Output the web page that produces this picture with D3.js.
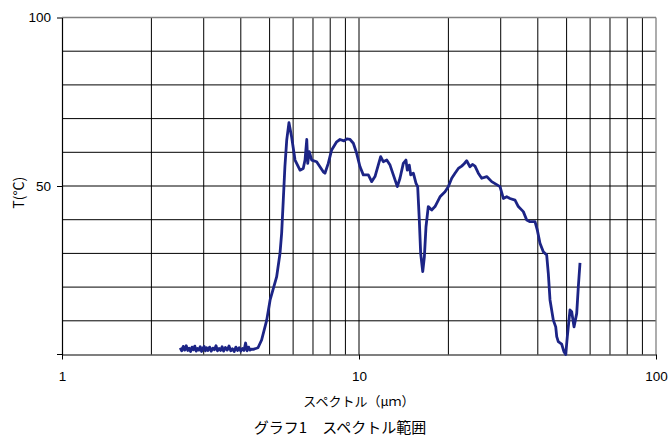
<!DOCTYPE html>
<html>
<head>
<meta charset="utf-8">
<script src="https://cdn.jsdelivr.net/npm/d3@7"></script>
<style>
  body { margin: 0; background: #fff; }
  text { font-family: "Liberation Sans", Arial, "Noto Sans CJK JP", sans-serif; }
  .jp { font-family: "Noto Sans CJK JP", sans-serif; }
</style>
</head>
<body>
<div id="chart"></div>
<script>
const width = 670,
    height = 436;

const margin = { top: 17.5, right: 14, bottom: 81.5, left: 62 };

// wavelength (µm) and temperature readings
const wavelength = [
    2.50, 2.53, 2.56, 2.59, 2.62, 2.65, 2.68, 2.71, 2.74, 2.77,
    2.80, 2.83, 2.86, 2.89, 2.92, 2.95, 2.98, 3.01, 3.04, 3.07,
    3.10, 3.14, 3.18, 3.22, 3.26, 3.30, 3.34, 3.38, 3.42, 3.46,
    3.50, 3.55, 3.60, 3.65, 3.70, 3.75, 3.80, 3.85, 3.90, 3.95,
    4.00, 4.05, 4.10, 4.15, 4.20, 4.25, 4.30, 4.35, 4.40, 4.57, 4.70,
    4.89, 5.02, 5.28, 5.42, 5.49, 5.56, 5.63, 5.71, 5.81, 5.93,
    6.09, 6.33, 6.49, 6.58, 6.67, 6.72, 6.80, 6.93, 7.20, 7.58,
    7.68, 7.88, 8.09, 8.41, 8.63, 8.90, 9.10, 9.33, 9.57, 9.82,
    10.08, 10.34, 10.75, 11.03, 11.32, 11.61, 11.83, 12.07, 12.40, 12.72,
    13.05, 13.46, 13.74, 14.10, 14.39, 14.54, 14.77, 14.93, 15.24, 15.56,
    15.76, 15.96, 16.13, 16.39, 16.60, 16.81, 17.11, 17.57, 18.03, 18.74,
    19.48, 19.98, 20.52, 21.05, 21.60, 22.17, 22.60, 23.05, 23.64, 24.10,
    24.58, 25.22, 25.89, 26.92, 27.98, 29.84, 30.62, 31.43, 32.24, 33.52,
    34.39, 35.75, 36.70, 37.65, 39.14, 39.85, 40.68, 41.74, 42.85, 43.39,
    43.97, 45.11, 45.96, 46.32, 46.88, 48.13, 49.00, 49.66, 50.28, 51.33,
    52.02, 52.96, 54.08, 54.76, 55.48
];
const temperature = [
    2.0, 1.1, 2.4, 1.3, 2.6, 1.2, 1.9, 0.9, 2.2, 1.4,
    2.5, 1.0, 1.8, 1.3, 2.3, 0.9, 1.7, 2.4, 1.1, 2.0,
    1.2, 2.2, 1.0, 1.9, 1.4, 2.6, 1.1, 1.8, 1.2, 2.3,
    1.0, 2.1, 1.3, 2.5, 1.1, 1.7, 0.9, 2.2, 1.2, 2.0,
    1.0, 1.8, 1.2, 3.4, 1.1, 2.2, 1.3, 1.6, 1.5, 2.0, 4.3,
    10.2, 16.2, 23.0, 30.0, 36.0, 45.8, 55.7, 63.6, 68.8, 64.6,
    57.7, 54.7, 55.2, 57.7, 63.8, 56.7, 60.2, 57.7, 57.2, 54.2,
    53.8, 56.7, 60.7, 63.1, 63.8, 63.4, 64.0, 63.8, 62.7, 59.7,
    55.7, 53.3, 53.3, 51.3, 52.8, 56.2, 58.7, 57.2, 57.7, 56.2,
    53.3, 49.8, 52.3, 56.7, 57.7, 54.7, 56.2, 53.3, 53.8, 50.8,
    49.8, 39.9, 30.0, 24.6, 29.0, 37.9, 43.9, 42.9, 43.9, 46.8,
    48.3, 49.8, 52.3, 53.8, 55.2, 55.9, 56.6, 57.5, 55.7, 56.4,
    55.9, 53.8, 52.3, 52.8, 51.3, 49.8, 46.3, 46.8, 46.3, 45.8,
    43.9, 42.4, 39.9, 39.4, 39.4, 36.9, 33.0, 30.5, 29.5, 24.1,
    16.2, 10.2, 8.2, 5.3, 3.8, 3.1, 0.8, 0.0, 5.3, 13.2,
    12.7, 8.2, 12.2, 20.1, 27.2
];

const xGridValues = [2, 3, 4, 5, 6, 7, 8, 9, 10, 20, 30, 40, 50, 60, 70, 80, 90];
const yGridValues = [10, 20, 30, 40, 50, 60, 70, 80, 90];
const xTickValues = [1, 10, 100];
const yTickValues = [0, 50, 100];

const data = wavelength.map(function(w, i) { return { x: w, y: temperature[i] } });

const innerW = width - margin.left - margin.right,
    innerH = height - margin.top - margin.bottom;

const svg = d3.select("#chart")
    .append("svg")
    .attr("width", width)
    .attr("height", height);

const g = svg.append("g")
    .attr("transform", `translate(${margin.left},${margin.top})`);

const x = d3.scaleLog()
    .domain([1, 100])
    .range([0, innerW]);

const y = d3.scaleLinear()
    .domain([0, 100])
    .range([innerH, 0]);

// grid
g.selectAll(null)
    .data(yGridValues)
    .join("line")
    .attr("x1", 0)
    .attr("x2", innerW)
    .attr("y1", function(d) { return y(d) })
    .attr("y2", function(d) { return y(d) })
    .attr("stroke", "#000")
    .attr("stroke-width", 1);

g.selectAll(null)
    .data(xGridValues)
    .join("line")
    .attr("x1", function(d) { return x(d) })
    .attr("x2", function(d) { return x(d) })
    .attr("y1", 0)
    .attr("y2", innerH)
    .attr("stroke", "#000")
    .attr("stroke-width", 1);

// top and right frame in grey
g.append("line")
    .attr("x1", 0).attr("x2", innerW)
    .attr("y1", y(100)).attr("y2", y(100))
    .attr("stroke", "#808080").attr("stroke-width", 1.3);
g.append("line")
    .attr("x1", x(100)).attr("x2", x(100))
    .attr("y1", 0).attr("y2", innerH)
    .attr("stroke", "#808080").attr("stroke-width", 1.3);

// axes
const xAxis = g.append("g")
    .attr("transform", `translate(0,${innerH})`)
    .call(d3.axisBottom(x).tickValues(xTickValues).tickFormat(d3.format("d")).tickSizeInner(5).tickSizeOuter(0).tickPadding(12));

const yAxis = g.append("g")
    .call(d3.axisLeft(y).tickValues(yTickValues.filter(function(d) { return d > 0 })).tickSizeInner(5).tickSizeOuter(0).tickPadding(6));

[xAxis, yAxis].forEach(function(a) {
    a.select(".domain").attr("stroke", "#000").attr("stroke-width", 1.2);
    a.selectAll(".tick line").attr("stroke", "#000");
    a.selectAll(".tick text")
        .attr("fill", "#000")
        .style("font-size", "13.5px")
        .style("font-family", "'Liberation Sans', Arial, sans-serif");
});

// tick at zero on the y axis, no label
g.append("line")
    .attr("x1", -5).attr("x2", 0)
    .attr("y1", y(0)).attr("y2", y(0))
    .attr("stroke", "#000");

// the line
const line = d3.line()
    .x(function(d) { return x(d.x) })
    .y(function(d) { return y(d.y) });

g.append("path")
    .datum(data)
    .attr("d", line)
    .attr("fill", "none")
    .attr("stroke", "#1c2486")
    .attr("stroke-width", 2.8)
    .attr("stroke-linejoin", "round");

// labels
svg.append("text")
    .attr("class", "jp")
    .attr("transform", `translate(24,${margin.top + y(48)}) rotate(-90)`)
    .attr("text-anchor", "middle")
    .style("font-size", "14px")
    .text("T(°C)");

svg.append("text")
    .attr("class", "jp")
    .attr("x", margin.left + innerW / 2)
    .attr("y", 406)
    .attr("text-anchor", "middle")
    .style("font-size", "13px")
    .text("スペクトル（μｍ）");

svg.append("text")
    .attr("class", "jp")
    .attr("x", 340)
    .attr("y", 433)
    .attr("text-anchor", "middle")
    .style("font-size", "15px")
    .text("グラフ1　スペクトル範囲");
</script>
</body>
</html>
